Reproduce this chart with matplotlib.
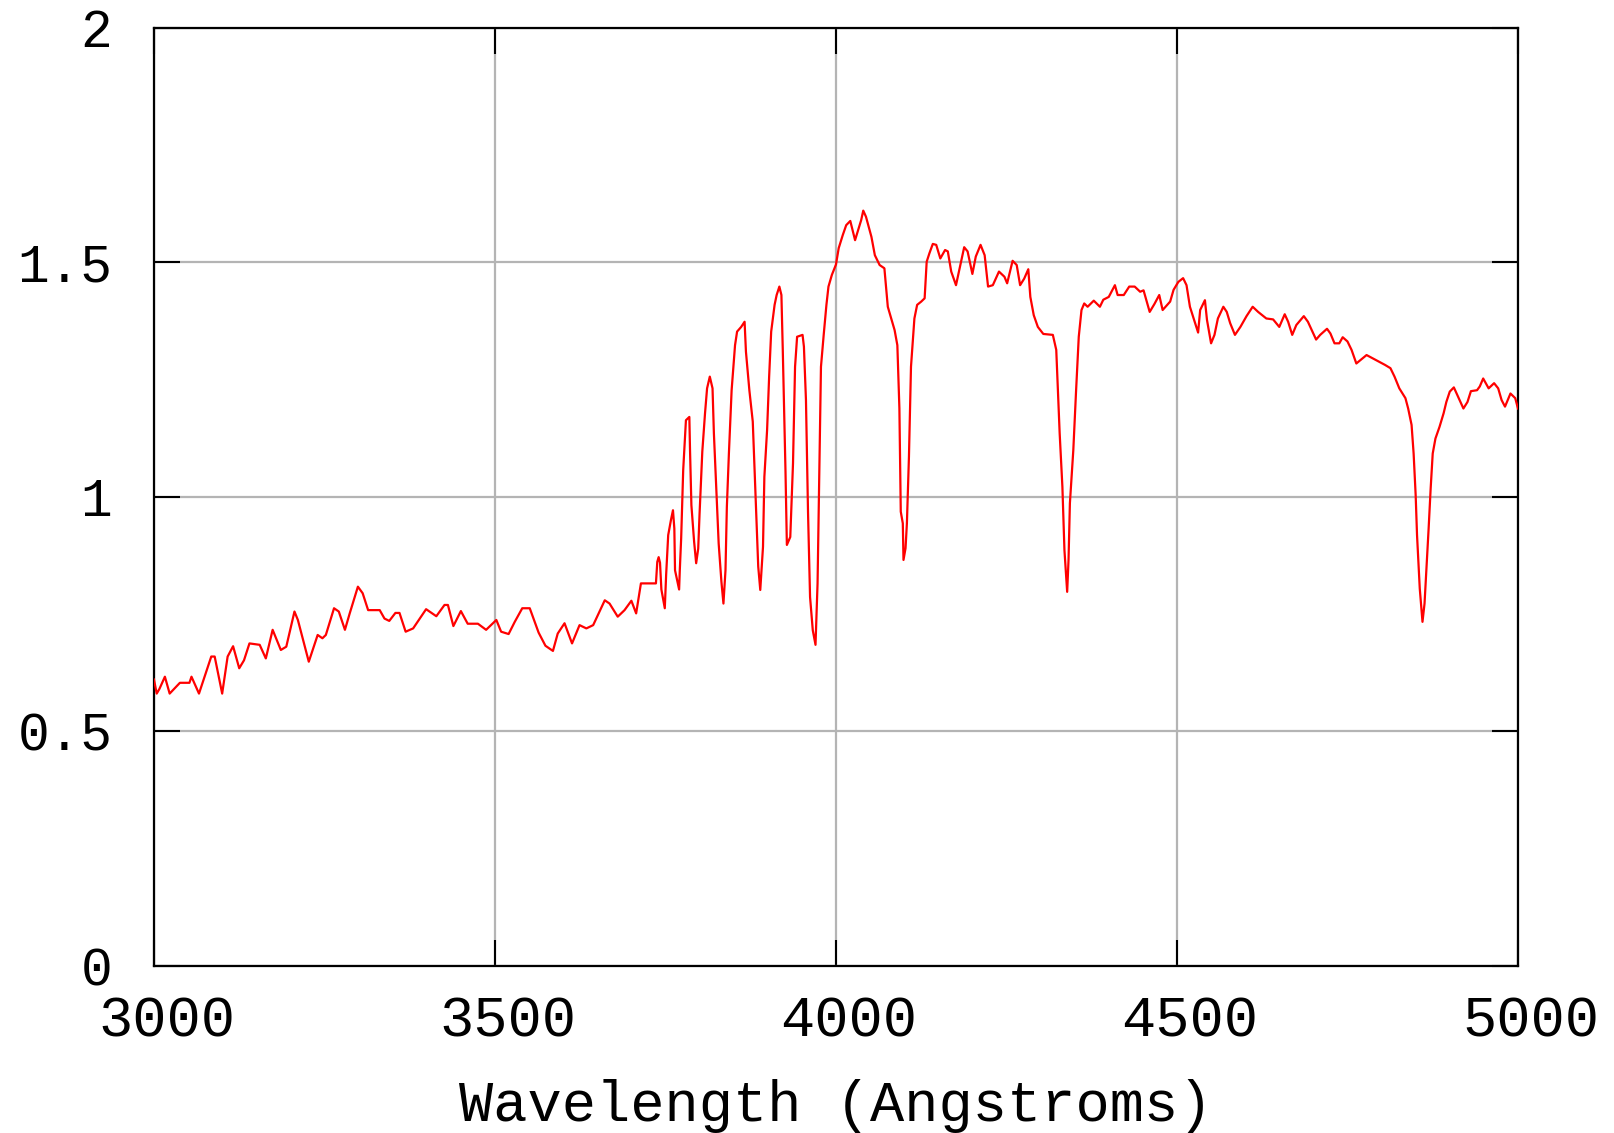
import matplotlib
matplotlib.use("Agg")
import matplotlib.pyplot as plt
import matplotlib.transforms as mtransforms

wavelength = [
    3000, 3004, 3008, 3016, 3023, 3038, 3052, 3055, 3066, 3084, 3089, 3100, 3108, 3116,
    3125, 3132, 3140, 3155, 3164, 3174, 3186, 3194, 3206, 3211, 3227, 3240, 3247, 3252,
    3264, 3271, 3280, 3287, 3299, 3306, 3314, 3331, 3338, 3345, 3354, 3360, 3369, 3380,
    3399, 3414, 3426, 3431, 3439, 3450, 3460, 3475, 3487, 3502, 3509, 3520, 3529, 3540,
    3551, 3564, 3574, 3585, 3592, 3602, 3613, 3624, 3634, 3644, 3661, 3668, 3680, 3690,
    3700, 3707, 3714, 3736, 3738, 3740, 3742, 3744, 3749, 3751, 3754, 3758, 3761, 3763,
    3764, 3770, 3771, 3773, 3776, 3780, 3785, 3786, 3788, 3792, 3795, 3798, 3800, 3804,
    3808, 3811, 3815, 3819, 3821, 3825, 3828, 3832, 3835, 3838, 3840, 3843, 3847, 3852,
    3855, 3861, 3866, 3868, 3873, 3878, 3882, 3886, 3889, 3893, 3895, 3899, 3902, 3905,
    3910, 3913, 3917, 3920, 3922, 3926, 3928, 3933, 3937, 3940, 3943, 3951, 3953, 3956,
    3959, 3962, 3966, 3970, 3973, 3976, 3978, 3982, 3986, 3989, 3994, 4000, 4004, 4010,
    4015, 4021, 4028, 4037, 4040, 4044, 4052, 4057, 4064, 4071, 4076, 4081, 4086, 4090,
    4093, 4095, 4098, 4099, 4102, 4104, 4107, 4110, 4115, 4119, 4125, 4130, 4133, 4137,
    4142, 4147, 4153, 4160, 4164, 4169, 4176, 4184, 4188, 4193, 4200, 4205, 4212, 4218,
    4223, 4230, 4239, 4247, 4251, 4259, 4265, 4270, 4276, 4282, 4285, 4290, 4296, 4304,
    4318, 4323, 4325, 4328, 4332, 4335, 4339, 4341, 4343, 4348, 4352, 4356, 4360, 4364,
    4369, 4378, 4387, 4392, 4400, 4409, 4413, 4422, 4430, 4438, 4446, 4451, 4460, 4467,
    4474, 4479, 4490, 4495, 4502, 4509, 4514, 4519, 4526, 4531, 4534, 4541, 4544, 4550,
    4555, 4560, 4568, 4573, 4578, 4585, 4593, 4602, 4611, 4619, 4631, 4641, 4650, 4658,
    4663, 4669, 4675, 4686, 4692, 4704, 4710, 4720, 4725, 4731, 4738, 4743, 4750, 4756,
    4763, 4778, 4792, 4805, 4813, 4819, 4826, 4835, 4839, 4844, 4847, 4850, 4852, 4856,
    4860, 4863, 4866, 4869, 4872, 4875, 4879, 4885, 4891, 4895, 4900, 4906, 4910, 4920,
    4926, 4931, 4940, 4944, 4949, 4957, 4965, 4971, 4976, 4981, 4989, 4996, 5000,
]

flux = [
    0.610, 0.580, 0.590, 0.616, 0.580, 0.603, 0.603, 0.616, 0.580, 0.659, 0.659, 0.580, 0.659, 0.681,
    0.634, 0.651, 0.687, 0.684, 0.655, 0.716, 0.673, 0.680, 0.755, 0.737, 0.648, 0.705, 0.698, 0.705,
    0.762, 0.755, 0.716, 0.751, 0.808, 0.794, 0.758, 0.758, 0.740, 0.735, 0.752, 0.752, 0.712, 0.719,
    0.760, 0.745, 0.769, 0.769, 0.724, 0.756, 0.729, 0.729, 0.716, 0.737, 0.712, 0.707, 0.733, 0.762,
    0.762, 0.710, 0.682, 0.671, 0.708, 0.730, 0.687, 0.726, 0.719, 0.726, 0.779, 0.772, 0.744, 0.758,
    0.778, 0.751, 0.815, 0.815, 0.861, 0.871, 0.859, 0.802, 0.762, 0.834, 0.918, 0.950, 0.971, 0.932,
    0.843, 0.802, 0.843, 0.911, 1.057, 1.163, 1.170, 1.099, 0.982, 0.904, 0.858, 0.889, 0.964, 1.096,
    1.178, 1.231, 1.256, 1.231, 1.135, 1.003, 0.900, 0.819, 0.772, 0.843, 0.978, 1.092, 1.227, 1.323,
    1.352, 1.362, 1.373, 1.309, 1.227, 1.160, 1.007, 0.851, 0.801, 0.893, 1.042, 1.142, 1.256, 1.352,
    1.409, 1.430, 1.448, 1.430, 1.313, 1.053, 0.897, 0.914, 1.071, 1.277, 1.341, 1.345, 1.320, 1.206,
    0.968, 0.786, 0.715, 0.684, 0.815, 1.092, 1.277, 1.345, 1.409, 1.448, 1.473, 1.495, 1.530, 1.558,
    1.579, 1.588, 1.547, 1.590, 1.610, 1.597, 1.554, 1.515, 1.494, 1.487, 1.405, 1.380, 1.355, 1.323,
    1.188, 0.968, 0.943, 0.865, 0.890, 0.943, 1.085, 1.277, 1.380, 1.409, 1.416, 1.423, 1.501, 1.519,
    1.539, 1.537, 1.508, 1.526, 1.523, 1.480, 1.451, 1.505, 1.532, 1.523, 1.475, 1.512, 1.537, 1.515,
    1.448, 1.451, 1.480, 1.469, 1.455, 1.503, 1.494, 1.451, 1.465, 1.485, 1.426, 1.387, 1.362, 1.347,
    1.345, 1.313, 1.242, 1.135, 1.021, 0.886, 0.797, 0.865, 0.986, 1.099, 1.224, 1.341, 1.398, 1.412,
    1.405, 1.418, 1.405, 1.420, 1.426, 1.451, 1.430, 1.430, 1.448, 1.448, 1.437, 1.440, 1.394, 1.411,
    1.430, 1.398, 1.416, 1.441, 1.458, 1.466, 1.451, 1.405, 1.373, 1.350, 1.398, 1.419, 1.377, 1.327,
    1.345, 1.380, 1.405, 1.394, 1.370, 1.345, 1.362, 1.385, 1.405, 1.394, 1.380, 1.378, 1.362, 1.389,
    1.373, 1.345, 1.366, 1.385, 1.373, 1.335, 1.345, 1.358, 1.348, 1.327, 1.327, 1.340, 1.331, 1.313,
    1.284, 1.302, 1.291, 1.281, 1.274, 1.256, 1.231, 1.210, 1.188, 1.153, 1.092, 1.003, 0.918, 0.804,
    0.733, 0.772, 0.851, 0.932, 1.018, 1.092, 1.124, 1.149, 1.178, 1.202, 1.224, 1.233, 1.220, 1.188,
    1.202, 1.225, 1.227, 1.235, 1.252, 1.231, 1.242, 1.231, 1.206, 1.192, 1.220, 1.210, 1.188,
]

x_ticks = [3000, 3500, 4000, 4500, 5000]
x_tick_labels = ["3000", "3500", "4000", "4500", "5000"]
y_ticks = [0, 0.5, 1, 1.5, 2]
y_tick_labels = ["0", "0.5", "1", "1.5", "2"]
x_label = "Wavelength (Angstroms)"

FONT = ["Liberation Mono", "DejaVu Sans Mono"]

fig = plt.figure(figsize=(16.14, 11.33), dpi=100)
ax = fig.add_axes([0.0954, 0.1478, 0.8451, 0.8277])

ax.plot(wavelength, flux, color="#ff0000", linewidth=1.6, zorder=3)

ax.set_xlim(3000, 5000)
ax.set_ylim(0, 2)
ax.set_xticks(x_ticks)
ax.set_xticklabels(x_tick_labels, fontfamily=FONT, fontsize=41)
ax.set_yticks(y_ticks)
ax.set_yticklabels(y_tick_labels, fontfamily=FONT, fontsize=38)

ax.grid(True, color="#b4b4b4", linewidth=1.6, zorder=1)
ax.set_axisbelow(True)
ax.tick_params(axis="both", which="major", direction="in", length=19, width=1.5,
               colors="black", top=True, right=True)
ax.tick_params(axis="x", pad=21)
ax.tick_params(axis="y", pad=30)
for sp in ax.spines.values():
    sp.set_linewidth(1.6)
    sp.set_color("black")

ax.set_xlabel(x_label, fontfamily=FONT, fontsize=41, labelpad=22)

offset = mtransforms.ScaledTranslation(13 / 100, 0, fig.dpi_scale_trans)
for lab in ax.get_xticklabels():
    lab.set_transform(lab.get_transform() + offset)

fig.savefig("out.png", dpi=100, facecolor="white")
